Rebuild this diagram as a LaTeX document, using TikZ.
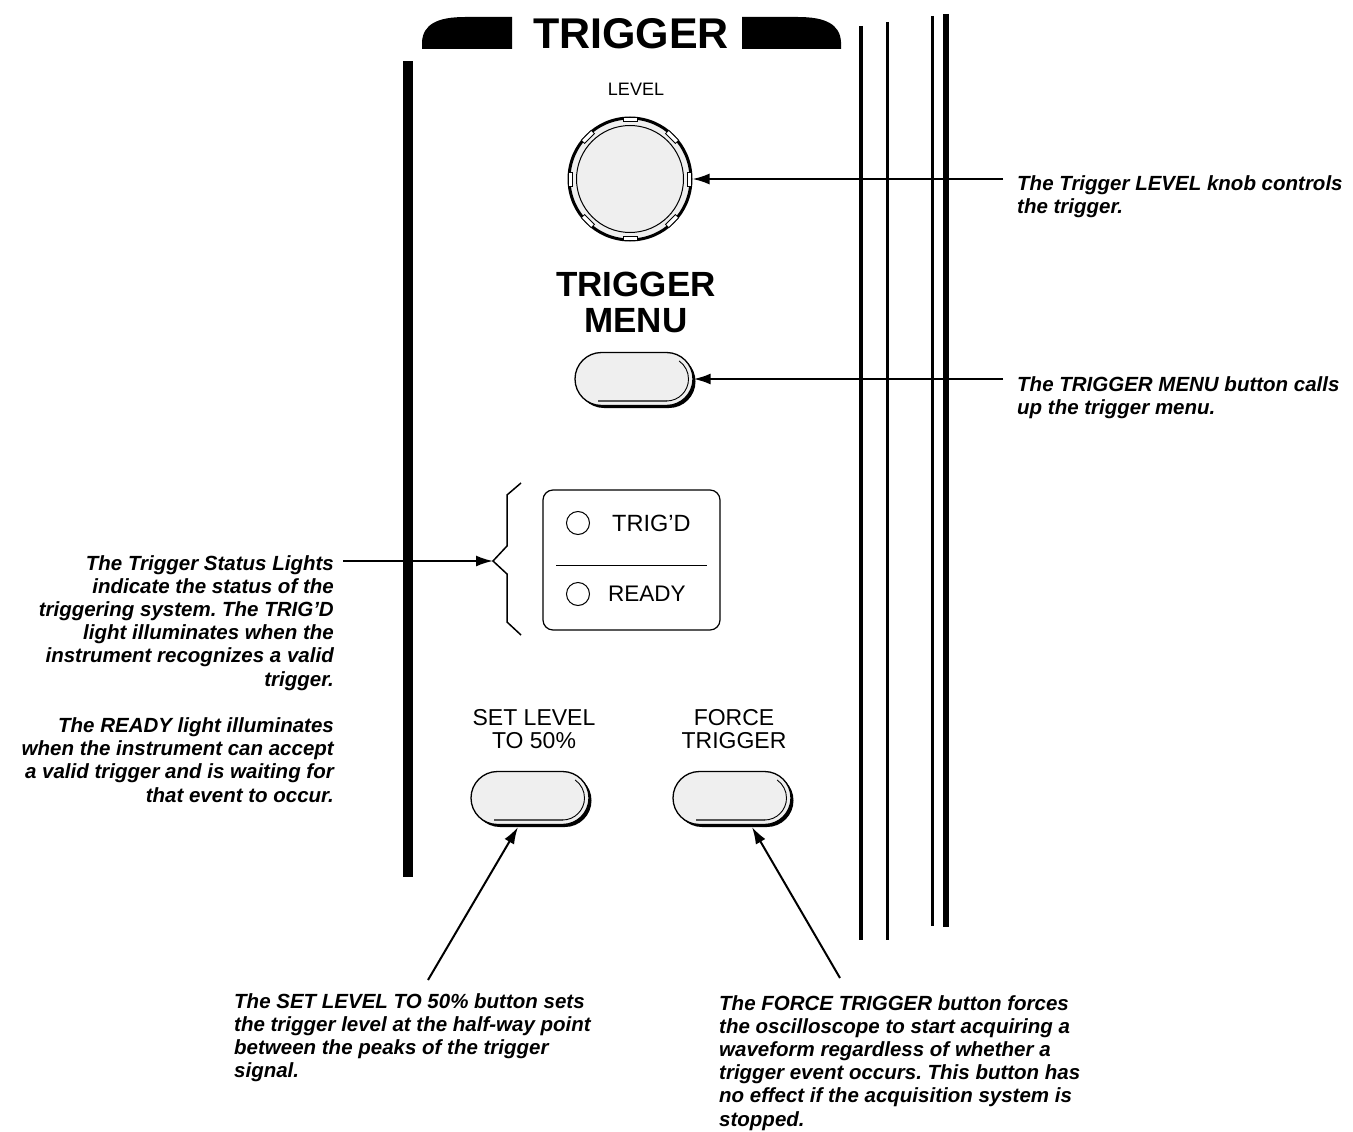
\documentclass[tikz,border=0pt]{standalone}
\usepackage{fontspec}
\setmainfont{Liberation Sans}
\usetikzlibrary{arrows.meta,shapes.misc,shadows}
\definecolor{panelgray}{HTML}{EFEFEF}
\definecolor{glintgray}{HTML}{555555}
\frenchspacing

\begin{document}
\begin{tikzpicture}[x=1pt,y=-1pt,
    note/.style={font=\bfseries\itshape\fontsize{20.5}{23.2}\selectfont, inner sep=0pt},
    paneltext/.style={font=\fontsize{23}{23}\selectfont, inner sep=0pt, align=center},
    pointer/.style={line width=2pt, -{Latex[length=17pt,width=11pt]}},
    pushbutton/.style={rounded rectangle, draw, line width=1.3pt, fill=panelgray,
        minimum width=118pt, minimum height=53pt, inner sep=0pt,
        drop shadow={shadow xshift=2.5pt, shadow yshift=-2.5pt, fill=black, opacity=1}},
    notch/.style={draw, fill=white, line width=0.8pt, minimum width=14pt, minimum height=4.5pt, inner sep=0pt}]
    \useasboundingbox (0,0) rectangle (1353,1132);

    % panel header and frame lines
    \fill (422,49) -- (422,42) .. controls (423,24) and (438,17) .. (465,17) -- (512,17) -- (512,49) -- cycle;
    \fill (742,49) -- (742,17) -- (798,17) .. controls (825,17) and (840,24) .. (841,42) -- (841,49) -- cycle;
    \node[font=\bfseries\fontsize{43}{43}\selectfont, inner sep=0pt] (title) at (631,34) {TRIGGER};
    \fill (403,61) rectangle (413,877);
    \draw[line width=4pt] (861,26) -- (861,940);
    \draw[line width=3pt] (887,22) -- (887,940);
    \draw[line width=3pt] (932,16) -- (932,926);
    \draw[line width=5.5pt] (946,14) -- (946,927);

    % level knob
    \node[font=\fontsize{18}{18}\selectfont, inner sep=0pt] (levellabel) at (636,89) {LEVEL};
    \node[circle, draw, line width=3pt, fill=panelgray, minimum size=122pt, inner sep=0pt] (knob) at (630,179) {};
    \draw[line width=1pt] (knob.center) circle (53.5);
    \foreach \a in {0,45,...,315}
        \path (knob.center) ++(\a:59.5) node[notch, rotate=90-\a] {};

    % trigger menu button
    \node[font=\bfseries\fontsize{35}{36}\selectfont, inner sep=0pt, align=center, anchor=north] (menulabel) at (636,272) {TRIGGER\\MENU};
    \node[pushbutton] (menu) at (634,379) {};

    % status lights
    \draw[line width=1.2pt, rounded corners=10pt] (543,490) rectangle (720,630);
    \draw[line width=1pt] (556,565) -- (707,565);
    \draw[line width=1pt] (578,523) circle (11.5);
    \draw[line width=1pt] (578,594) circle (11.5);
    \node[paneltext, anchor=west, font=\fontsize{23.5}{23.5}\selectfont] (trigd) at (612,523) {TRIG’D};
    \node[paneltext, anchor=west, font=\fontsize{22.5}{22.5}\selectfont] (ready) at (608,594) {READY};
    \draw[line width=1.5pt] (521,483) -- (507,495) -- (507,546) -- (493,561) -- (507,574) -- (507,622) -- (521,635);
    \coordinate (bracetip) at (493,561);

    % set level and force trigger buttons
    \node[paneltext, anchor=north] (setlabel) at (534,709) {SET LEVEL\\TO 50\%};
    \node[paneltext, anchor=north] (forcelabel) at (734,709) {FORCE\\TRIGGER};
    \node[pushbutton] (setlevel) at (530,798) {};
    \node[pushbutton] (force) at (732,798) {};

    % glints on the buttons
    \foreach \b in {menu,setlevel,force} {
        \draw[glintgray, line width=2pt] ([shift={(-36,22)}]\b.center) -- ++(68.5,0);
        \draw[line width=0.9pt] ([shift={(32.5,22)}]\b.center) arc[start angle=90, end angle=-55, radius=22];
    }

    % callouts
    \node[note, anchor=north west, align=left] (knobnote) at (1017,175)
        {The Trigger LEVEL knob controls\\the trigger.};
    \node[note, anchor=north west, align=left] (menunote) at (1017,376)
        {The TRIGGER MENU button calls\\up the trigger menu.};
    \node[note, anchor=north east, align=right] (statusnote) at (334,555)
        {The Trigger Status Lights\\indicate the status of the\\triggering system. The TRIG’D\\light illuminates when the\\instrument recognizes a valid\\trigger.\\[23.2pt]The READY light illuminates\\when the instrument can accept\\a valid trigger and is waiting for\\that event to occur.};
    \node[note, anchor=north west, align=left] (setnote) at (234,993)
        {The SET LEVEL TO 50\% button sets\\the trigger level at the half-way point\\between the peaks of the trigger\\signal.};
    \node[note, anchor=north west, align=left] (forcenote) at (719,995)
        {The FORCE TRIGGER button forces\\the oscilloscope to start acquiring a\\waveform regardless of whether a\\trigger event occurs. This button has\\no effect if the acquisition system is\\stopped.};

    \coordinate (knobtail) at (1003,179);
    \coordinate (menutail) at (1003,379);
    \coordinate (statustail) at (343,561);
    \coordinate (settail) at (428,980);
    \coordinate (settip) at (518,827);
    \coordinate (forcetail) at (840,978);
    \coordinate (forcetip) at (752,827);
    \draw[pointer] (knobtail) -- (knob.east);
    \draw[pointer] (menutail) -- (menu.east);
    \draw[pointer] (statustail) -- (bracetip);
    \draw[pointer] (settail) -- (settip);
    \draw[pointer] (forcetail) -- (forcetip);
\end{tikzpicture}
\end{document}
